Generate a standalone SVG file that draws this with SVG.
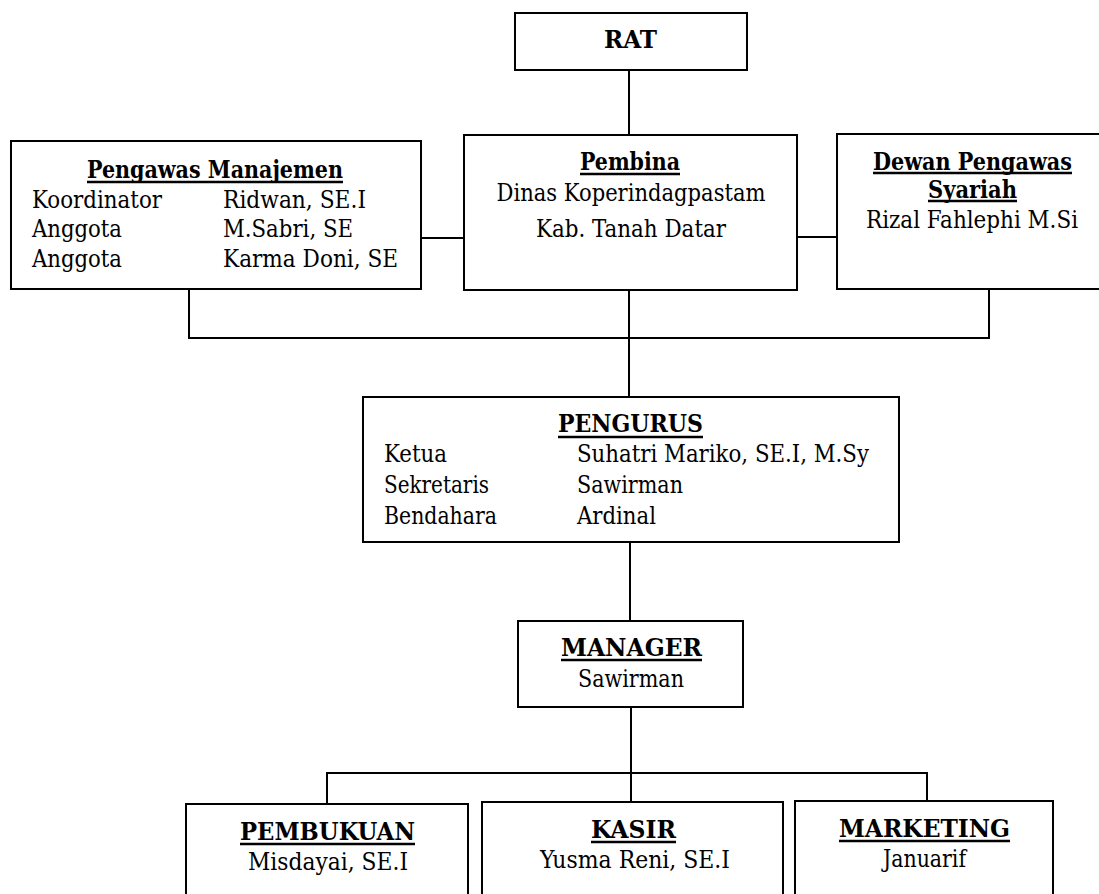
<svg xmlns="http://www.w3.org/2000/svg" width="1099" height="894" viewBox="0 0 1099 894">
<style>
.box{fill:#fff;stroke:#000;stroke-width:2}
.con{fill:none;stroke:#000;stroke-width:2}
.ul{stroke:#000;stroke-width:2.5}
.t{font-weight:bold}
.c{text-anchor:middle}
</style>
<rect width="1099" height="894" fill="#fff"/>
<g id="connectors">
<path class="con" d="M629,70V135"/>
<path class="con" d="M421,238H464"/>
<path class="con" d="M797,237H837"/>
<path class="con" d="M189,289V338H989V289"/>
<path class="con" d="M629,290V397"/>
<path class="con" d="M630,542V621"/>
<path class="con" d="M631,707V803"/>
<path class="con" d="M327,804V773H927V801"/>
</g>
<g font-family="'DejaVu Serif Condensed', 'DejaVu Serif', serif" font-size="23.5" fill="#000">
<g id="rat">
<rect class="box" x="515" y="13" width="232" height="57"/>
<text class="t c" x="630.5" y="48" textLength="53" lengthAdjust="spacingAndGlyphs">RAT</text>
</g>
<g id="pengawas-manajemen">
<rect class="box" x="11" y="141" width="410" height="148"/>
<text class="t c" x="215" y="178" textLength="256" lengthAdjust="spacingAndGlyphs">Pengawas Manajemen</text>
<line class="ul" x1="87" y1="182" x2="343" y2="182"/>
<text x="32" y="208" textLength="130" lengthAdjust="spacingAndGlyphs">Koordinator</text>
<text x="223" y="208" textLength="143" lengthAdjust="spacingAndGlyphs">Ridwan, SE.I</text>
<text x="32" y="237" textLength="90" lengthAdjust="spacingAndGlyphs">Anggota</text>
<text x="223" y="237" textLength="130" lengthAdjust="spacingAndGlyphs">M.Sabri, SE</text>
<text x="32" y="267" textLength="90" lengthAdjust="spacingAndGlyphs">Anggota</text>
<text x="223" y="267" textLength="175" lengthAdjust="spacingAndGlyphs">Karma Doni, SE</text>
</g>
<g id="pembina">
<rect class="box" x="464" y="135" width="333" height="155"/>
<text class="t c" x="630" y="170" textLength="100" lengthAdjust="spacingAndGlyphs">Pembina</text>
<line class="ul" x1="580" y1="174" x2="680" y2="174"/>
<text class="c" x="631" y="201" textLength="269" lengthAdjust="spacingAndGlyphs">Dinas Koperindagpastam</text>
<text class="c" x="631" y="237" textLength="190" lengthAdjust="spacingAndGlyphs">Kab. Tanah Datar</text>
</g>
<g id="dewan-pengawas-syariah">
<rect class="box" x="837" y="134" width="275" height="155"/>
<text class="t c" x="972.5" y="170" textLength="199" lengthAdjust="spacingAndGlyphs">Dewan Pengawas</text>
<line class="ul" x1="873" y1="173" x2="1072" y2="173"/>
<text class="t c" x="972.5" y="198" textLength="89" lengthAdjust="spacingAndGlyphs">Syariah</text>
<line class="ul" x1="928" y1="201" x2="1017" y2="201"/>
<text class="c" x="972" y="228" textLength="212" lengthAdjust="spacingAndGlyphs">Rizal Fahlephi M.Si</text>
</g>
<g id="pengurus">
<rect class="box" x="363" y="397" width="536" height="145"/>
<text class="t c" x="630.5" y="432" textLength="145" lengthAdjust="spacingAndGlyphs">PENGURUS</text>
<line class="ul" x1="558" y1="437" x2="703" y2="437"/>
<text x="384" y="462" textLength="63" lengthAdjust="spacingAndGlyphs">Ketua</text>
<text x="577" y="462" textLength="292" lengthAdjust="spacingAndGlyphs">Suhatri Mariko, SE.I, M.Sy</text>
<text x="384" y="493" textLength="105" lengthAdjust="spacingAndGlyphs">Sekretaris</text>
<text x="577" y="493" textLength="106" lengthAdjust="spacingAndGlyphs">Sawirman</text>
<text x="384" y="524" textLength="113" lengthAdjust="spacingAndGlyphs">Bendahara</text>
<text x="577" y="524" textLength="79" lengthAdjust="spacingAndGlyphs">Ardinal</text>
</g>
<g id="manager">
<rect class="box" x="518" y="621" width="225" height="86"/>
<text class="t c" x="631.5" y="656" textLength="141" lengthAdjust="spacingAndGlyphs">MANAGER</text>
<line class="ul" x1="561" y1="660" x2="702" y2="660"/>
<text class="c" x="631" y="687" textLength="106" lengthAdjust="spacingAndGlyphs">Sawirman</text>
</g>
<g id="pembukuan">
<rect class="box" x="186" y="804" width="282" height="110"/>
<text class="t c" x="327.5" y="840" textLength="175" lengthAdjust="spacingAndGlyphs">PEMBUKUAN</text>
<line class="ul" x1="240" y1="844" x2="415" y2="844"/>
<text class="c" x="328" y="870" textLength="160" lengthAdjust="spacingAndGlyphs">Misdayai, SE.I</text>
</g>
<g id="kasir">
<rect class="box" x="482" y="802" width="301" height="112"/>
<text class="t c" x="633.5" y="838" textLength="85" lengthAdjust="spacingAndGlyphs">KASIR</text>
<line class="ul" x1="591" y1="842" x2="676" y2="842"/>
<text class="c" x="635" y="868" textLength="190" lengthAdjust="spacingAndGlyphs">Yusma Reni, SE.I</text>
</g>
<g id="marketing">
<rect class="box" x="795" y="801" width="258" height="113"/>
<text class="t c" x="924.5" y="837" textLength="171" lengthAdjust="spacingAndGlyphs">MARKETING</text>
<line class="ul" x1="839" y1="841" x2="1010" y2="841"/>
<text class="c" x="924.5" y="867" textLength="83" lengthAdjust="spacingAndGlyphs">Januarif</text>
</g>
</g>
</svg>
